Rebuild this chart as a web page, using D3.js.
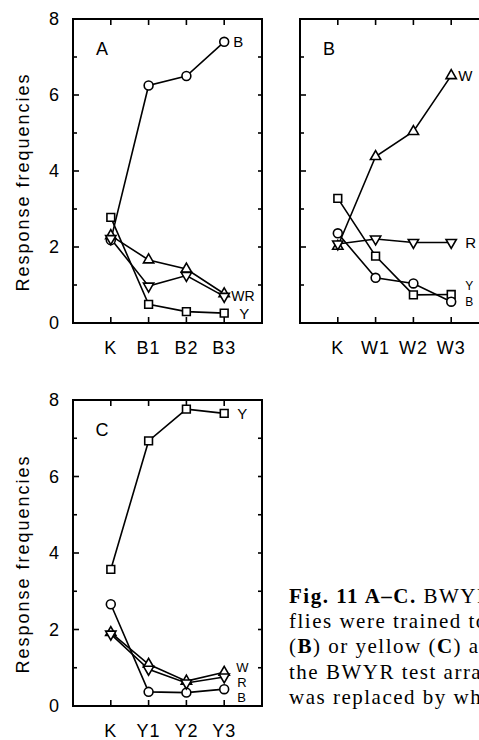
<!DOCTYPE html>
<html>
<head>
<meta charset="utf-8">
<script src="https://cdn.jsdelivr.net/npm/d3@7"></script>
<style>
    body { margin: 0; background: #fff; overflow: hidden; }
    svg { display: block; }
    text { font-family: "Liberation Sans", Arial, sans-serif; fill: #000; }
    .caption text { font-family: "Liberation Serif", "Times New Roman", serif; }
</style>
</head>
<body>
<div class="container"></div>
<script>
// categories per panel
const catsA = ['K', 'B1', 'B2', 'B3'];
const catsB = ['K', 'W1', 'W2', 'W3'];
const catsC = ['K', 'Y1', 'Y2', 'Y3'];
const yTicks = [0, 2, 4, 6, 8];

// panel A: trained to blue
const blueA = [2.18, 6.25, 6.5, 7.4];
const yellowA = [2.78, 0.49, 0.3, 0.26];
const whiteA = [2.3, 1.66, 1.42, 0.77];
const redA = [2.22, 0.97, 1.25, 0.7];

// panel B: trained to white
const whiteB = [2.02, 4.38, 5.04, 6.51];
const redB = [2.08, 2.21, 2.12, 2.12];
const yellowB = [3.28, 1.76, 0.74, 0.75];
const blueB = [2.36, 1.19, 1.04, 0.56];

// panel C: trained to yellow
const yellowC = [3.57, 6.93, 7.76, 7.65];
const blueC = [2.66, 0.37, 0.35, 0.44];
const whiteC = [1.92, 1.09, 0.65, 0.88];
const redC = [1.88, 0.96, 0.6, 0.76];

const width = 479;
const height = 740;

const svg = d3.select('.container').append('svg').attr('width', width).attr('height', height);

const circleSym = d3.symbol().type(d3.symbolCircle).size(62);
const squareSym = d3.symbol().type(d3.symbolSquare).size(60);
const triSym = d3.symbol().type(d3.symbolTriangle).size(46);

function drawPanel(o)
{
    const x = d3.scaleLinear().domain([-1, 4]).range([o.left, o.left + 189]);
    const y = d3.scaleLinear().domain([0, 8]).range([o.bottom, o.top]);
    const right = o.left + 189;

    const g = svg.append('g');

    // ticks on left and right (every integer, inward)
    d3.range(1, 8).forEach(v => {
        let len = v % 2 == 0 ? 6 : 4;
        g.append('line').attr('x1', o.left).attr('x2', o.left + len)
            .attr('y1', y(v)).attr('y2', y(v)).attr('stroke', '#000').attr('stroke-width', 1.6);
        g.append('line').attr('x1', right).attr('x2', right - 4)
            .attr('y1', y(v)).attr('y2', y(v)).attr('stroke', '#000').attr('stroke-width', 1.6);
    });

    // top and bottom ticks at categories
    o.cats.forEach((c, i) => {
        g.append('line').attr('x1', x(i)).attr('x2', x(i)).attr('y1', o.top).attr('y2', o.top + 6)
            .attr('stroke', '#000').attr('stroke-width', 1.6);
        g.append('line').attr('x1', x(i)).attr('x2', x(i)).attr('y1', o.bottom).attr('y2', o.bottom - 6)
            .attr('stroke', '#000').attr('stroke-width', 1.6);
        g.append('text').attr('x', x(i)).attr('y', o.bottom + 31).attr('text-anchor', 'middle')
            .attr('font-size', 18).attr('letter-spacing', 1).text(c);
    });

    g.append('rect').attr('x', o.left).attr('y', o.top).attr('width', 189).attr('height', o.bottom - o.top)
        .attr('fill', 'none').attr('stroke', '#000').attr('stroke-width', 2);

    if (o.yLabels)
    {
        yTicks.forEach(v => {
            g.append('text').attr('x', o.left - 14).attr('y', y(v)).attr('dy', '0.36em')
                .attr('text-anchor', 'end').attr('font-size', 18).text(v);
        });
        let cy = (o.top + o.bottom) / 2 + 11;
        g.append('text').attr('transform', `translate(29,${cy}) rotate(-90)`)
            .attr('text-anchor', 'middle').attr('font-size', 18).attr('letter-spacing', 2)
            .text('Response frequencies');
    }

    g.append('text').attr('x', o.left + 29).attr('y', o.top + 36).attr('text-anchor', 'middle')
        .attr('font-size', 18).text(o.name);

    const line = d3.line().x((d, i) => x(i)).y(d => y(d));

    o.series.forEach(s => {
        g.append('path').attr('d', line(s.values)).attr('fill', 'none')
            .attr('stroke', '#000').attr('stroke-width', 1.6);
    });

    o.series.forEach(s => {
        g.selectAll(null).data(s.values).enter().append('path')
            .attr('d', s.sym)
            .attr('transform', (d, i) => `translate(${x(i)},${y(d)})` + (s.flip ? ' rotate(180)' : ''))
            .attr('fill', '#fff').attr('stroke', '#000').attr('stroke-width', 1.6);
    });

    o.labels.forEach(l => {
        g.append('text').attr('x', x(3) + l.dx).attr('y', y(l.v)).attr('dy', '0.36em')
            .attr('font-size', l.size || 15).text(l.text);
    });
}

drawPanel({
    name: 'A', cats: catsA, left: 73, top: 19, bottom: 323, yLabels: true,
    series: [
        { values: blueA, sym: circleSym },
        { values: yellowA, sym: squareSym },
        { values: whiteA, sym: triSym },
        { values: redA, sym: triSym, flip: true }
    ],
    labels: [
        { text: 'B', v: blueA[3], dx: 9 },
        { text: 'WR', v: whiteA[3] - 0.05, dx: 7, size: 14 },
        { text: 'Y', v: yellowA[3], dx: 15 }
    ]
});

drawPanel({
    name: 'B', cats: catsB, left: 300, top: 19, bottom: 323, yLabels: false,
    series: [
        { values: whiteB, sym: triSym },
        { values: redB, sym: triSym, flip: true },
        { values: yellowB, sym: squareSym },
        { values: blueB, sym: circleSym }
    ],
    labels: [
        { text: 'W', v: whiteB[3], dx: 7 },
        { text: 'R', v: redB[3], dx: 14 },
        { text: 'Y', v: 0.98, dx: 14, size: 12 },
        { text: 'B', v: 0.55, dx: 14, size: 12 }
    ]
});

drawPanel({
    name: 'C', cats: catsC, left: 73, top: 400, bottom: 706, yLabels: true,
    series: [
        { values: yellowC, sym: squareSym },
        { values: blueC, sym: circleSym },
        { values: whiteC, sym: triSym },
        { values: redC, sym: triSym, flip: true }
    ],
    labels: [
        { text: 'Y', v: yellowC[3], dx: 13 },
        { text: 'W', v: 1.02, dx: 12, size: 13 },
        { text: 'R', v: 0.62, dx: 13, size: 13 },
        { text: 'B', v: 0.22, dx: 13, size: 13 }
    ]
});

// caption, cut at the right edge like the source
const cap = svg.append('g').attr('class', 'caption');
const capLines = [
    [['Fig. 11\u2009A\u2013C.', true], [' BWYR test', false]],
    [['flies were trained to blue', false]],
    [['(', false], ['B', true], [') or yellow (', false], ['C', true], [') and tested', false]],
    [['the BWYR test array', false]],
    [['was replaced by white', false]]
];
capLines.forEach((parts, i) => {
    let t = cap.append('text').attr('x', 289).attr('y', 603 + i * 25.2)
        .attr('font-size', 21).attr('letter-spacing', 1.5);
    parts.forEach(p => {
        t.append('tspan').attr('font-weight', p[1] ? 'bold' : 'normal').text(p[0]);
    });
});
</script>
</body>
</html>
